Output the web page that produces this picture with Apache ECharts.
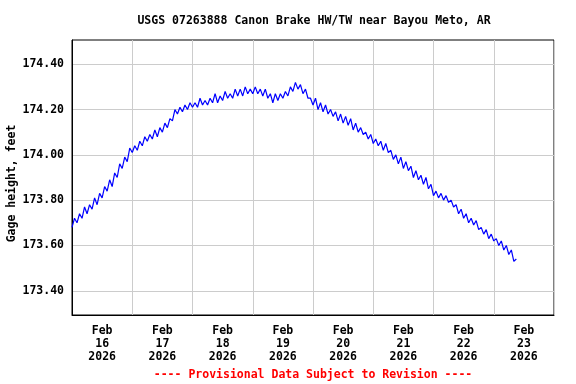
<!DOCTYPE html>
<html>
<head>
<meta charset="utf-8">
<script src="https://cdn.jsdelivr.net/npm/echarts@6/dist/echarts.min.js"></script>
<style>html,body{margin:0;padding:0;background:#fff}#c{width:576px;height:384px}</style>
</head>
<body>
<div id="c"></div>
<script>
// Hourly gage height readings (feet), starting 2026-02-16 00:00
const startTime = Date.UTC(2026, 1, 16, 0, 0);
const stepMs = 3600000;
const gageFeb16 = [173.68,173.72,173.70,173.74,173.72,173.77,173.74,173.78,173.76,173.81,173.78,173.83,173.81,173.86,173.84,173.89,173.86,173.92,173.90,173.96,173.94,173.99,173.97,174.03];
const gageFeb17 = [174.01,174.04,174.02,174.06,174.04,174.08,174.06,174.09,174.07,174.11,174.08,174.12,174.10,174.14,174.12,174.16,174.15,174.20,174.18,174.21,174.19,174.22,174.20,174.23];
const gageFeb18 = [174.21,174.23,174.21,174.25,174.22,174.24,174.22,174.25,174.23,174.27,174.23,174.26,174.24,174.28,174.25,174.27,174.25,174.29,174.26,174.29,174.26,174.30,174.27,174.29];
const gageFeb19 = [174.27,174.30,174.27,174.29,174.26,174.29,174.25,174.27,174.23,174.27,174.24,174.27,174.25,174.28,174.26,174.30,174.28,174.32,174.29,174.31,174.27,174.29,174.25,174.25];
const gageFeb20 = [174.22,174.25,174.20,174.23,174.19,174.22,174.18,174.20,174.17,174.19,174.15,174.18,174.14,174.17,174.13,174.16,174.11,174.14,174.10,174.12,174.09,174.10,174.07,174.09];
const gageFeb21 = [174.05,174.07,174.04,174.06,174.02,174.05,174.01,174.02,173.98,174.00,173.96,173.99,173.94,173.97,173.93,173.95,173.90,173.93,173.89,173.91,173.87,173.90,173.85,173.87];
const gageFeb22 = [173.82,173.84,173.81,173.83,173.80,173.82,173.79,173.80,173.77,173.78,173.74,173.76,173.72,173.74,173.70,173.72,173.69,173.71,173.67,173.68,173.65,173.67,173.63,173.65];
const gageFeb23 = [173.62,173.63,173.60,173.62,173.58,173.60,173.56,173.58,173.53,173.54];

const yTicks = [173.40, 173.60, 173.80, 174.00, 174.20, 174.40];
const xLabelDays = ['2026-02-16','2026-02-17','2026-02-18','2026-02-19','2026-02-20','2026-02-21','2026-02-22','2026-02-23'];
const titleText = 'USGS 07263888 Canon Brake HW/TW near Bayou Meto, AR';
const yAxisTitle = 'Gage height, feet';
const footerText = '---- Provisional Data Subject to Revision ----';

const allValues = [].concat(gageFeb16, gageFeb17, gageFeb18, gageFeb19, gageFeb20, gageFeb21, gageFeb22, gageFeb23);
const seriesData = allValues.map((v, i) => [startTime + i * stepMs, v]);
const xLabelValues = xLabelDays.map(d => Date.parse(d + 'T12:00:00Z'));
const months = ['Jan','Feb','Mar','Apr','May','Jun','Jul','Aug','Sep','Oct','Nov','Dec'];
const FONT = '"DejaVu Sans Mono", monospace';

const chart = echarts.init(document.getElementById('c'), null, {renderer: 'canvas'});
chart.setOption({
  animation: false,
  backgroundColor: '#fff',
  title: {
    text: titleText, left: 309, top: 10, textAlign: 'center',
    textStyle: {fontFamily: FONT, fontWeight: 'bold', fontSize: 11.5, color: '#000'}
  },
  grid: {left: 72, right: 22, top: 40, bottom: 69, show: true, borderColor: '#000', borderWidth: 1, backgroundColor: 'transparent'},
  xAxis: {
    type: 'value',
    min: Date.UTC(2026, 1, 16), max: Date.UTC(2026, 1, 24), interval: 86400000,
    axisLine: {show: true, lineStyle: {color: '#000'}},
    axisTick: {show: false},
    splitLine: {show: true, lineStyle: {color: '#cccccc', width: 1}},
    axisLabel: {
      customValues: xLabelValues,
      margin: 10,
      lineHeight: 13,
      fontFamily: FONT, fontWeight: 'bold', fontSize: 11.5, color: '#000',
      formatter: function (v) {
        const d = new Date(v);
        return months[d.getUTCMonth()] + '\n' + d.getUTCDate() + '\n' + d.getUTCFullYear();
      }
    }
  },
  yAxis: {
    type: 'value',
    min: 173.293, max: 174.507,
    axisLine: {show: true, lineStyle: {color: '#000'}},
    axisTick: {show: false, customValues: yTicks},
    splitLine: {show: true, lineStyle: {color: '#cccccc', width: 1}},
    axisLabel: {
      customValues: yTicks,
      margin: 8,
      fontFamily: FONT, fontWeight: 'bold', fontSize: 11.5, color: '#000',
      formatter: v => v.toFixed(2)
    }
  },
  graphic: [
    {type: 'text', x: 12, y: 183.5, rotation: Math.PI / 2,
     style: {text: yAxisTitle, fontFamily: FONT, fontWeight: 'bold', fontSize: 11.5, fill: '#000', align: 'center', verticalAlign: 'middle'}},
    {type: 'text', x: 313, y: 375,
     style: {text: footerText, fontFamily: FONT, fontWeight: 'bold', fontSize: 11.5, fill: '#ff0000', align: 'center', verticalAlign: 'middle'}}
  ],
  series: [{
    type: 'line',
    data: seriesData,
    showSymbol: false,
    symbol: 'none',
    lineStyle: {color: '#0000ff', width: 1.2},
    itemStyle: {color: '#0000ff'}
  }]
});
</script>
</body>
</html>
